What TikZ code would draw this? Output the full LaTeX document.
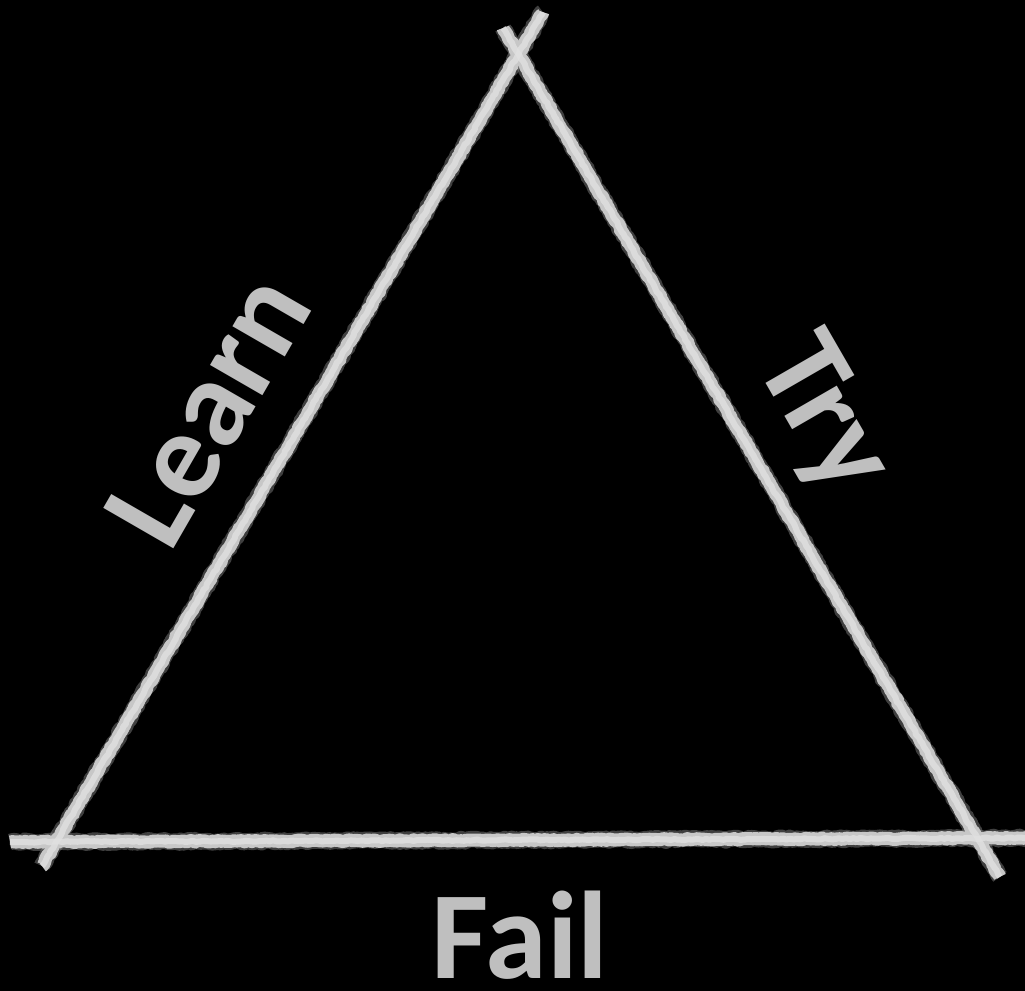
\documentclass[tikz,border=0pt]{standalone}
\usepackage{fontspec}
\setmainfont{Carlito}
\usetikzlibrary{decorations.pathmorphing}
\definecolor{chalkedge}{gray}{0.55}
\definecolor{chalkmid}{gray}{0.78}
\definecolor{chalkcore}{gray}{0.88}
\definecolor{labelgray}{RGB}{191,191,191}
\tikzset{
  chalkouter/.style={line width=0.33cm, draw=chalkedge, opacity=0.45, line join=round, line cap=butt, decorate,
    decoration={random steps, segment length=1.5pt, amplitude=0.7pt}},
  chalkinner/.style={line width=0.26cm, draw=chalkmid, line join=round, decorate,
    decoration={random steps, segment length=1.5pt, amplitude=0.5pt}},
  chalkcoreline/.style={line width=0.12cm, draw=chalkcore, opacity=0.8, line join=round, decorate,
    decoration={random steps, segment length=2pt, amplitude=0.4pt}},
  lbl/.style={text=labelgray, font=\fontsize{71}{84}\selectfont\bfseries, inner sep=0pt, anchor=base}
}
\begin{document}
\begin{tikzpicture}[x=0.02cm,y=-0.02cm]
\pgfmathsetseed{7}
\fill[black] (0,0) rectangle (1025,991);
\useasboundingbox (0,0) rectangle (1025,991);
\coordinate (L1) at (42,866);
\coordinate (L2) at (543,12);
\coordinate (R1) at (503,28);
\coordinate (R2) at (1000,877);
\coordinate (B1) at (10,842);
\coordinate (B2) at (1030,838);
\foreach \st in {chalkouter,chalkinner,chalkcoreline}{
  \draw[\st] (L1) -- (L2);
  \draw[\st] (R1) -- (R2);
  \draw[\st] (B1) -- (B2);
}
\node[lbl, rotate=60] (learn) at (243,430) {Learn};
\node[lbl, rotate=-60] (try) at (794,432) {Try};
\node[lbl] (fail) at (520,978) {Fail};
\end{tikzpicture}
\end{document}
